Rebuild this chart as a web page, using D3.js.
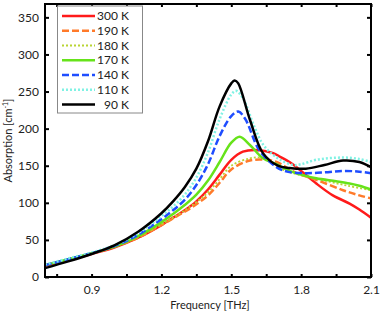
<!DOCTYPE html>
<html><head><meta charset="utf-8">
<script src="https://cdn.jsdelivr.net/npm/d3@7"></script>
<style>body{margin:0;background:#fff}svg{display:block}text{font-family:Lato,"Open Sans","DejaVu Sans",sans-serif;fill:#222}</style>
</head><body><svg id="c" width="380" height="313"></svg>
<script>
const seriesNames = ["300 K","190 K","180 K","170 K","140 K","110 K","90 K"];
const xTicks = [0.9,1.2,1.5,1.8,2.1];
const xMinorTicks = [0.75,0.9,1.05,1.2,1.35,1.5,1.65,1.8,1.95,2.1];
const yTicks = [0,50,100,150,200,250,300,350];

const f300 = [0.7,0.8,0.9,1.0,1.1,1.2,1.25,1.3,1.35,1.4,1.45,1.5,1.55,1.62,1.68,1.71,1.75,1.8,1.865,1.936,2.008,2.05,2.1];
const v300 = [15,23,31,40,53,70,80,90,102,118,138,158,169,171,167,162,155,143,126,110,99,91,80];
const f190 = [0.7,0.8,0.9,1.0,1.1,1.2,1.25,1.3,1.35,1.4,1.45,1.5,1.58,1.65,1.694,1.78,1.865,1.98,2.05,2.1];
const v190 = [16,24,32,41,53,70,79,88,98,110,127,145,157,158,155,140,131,117,110,106];
const f180 = [0.7,0.8,0.9,1.0,1.1,1.2,1.25,1.3,1.35,1.4,1.45,1.5,1.58,1.63,1.67,1.72,1.8,1.9,2.0,2.1];
const v180 = [16,24,32,41,54,71,80,90,101,114,132,150,160,161,156,145,137,130,123,117];
const f170 = [0.7,0.8,0.9,1.0,1.1,1.2,1.25,1.3,1.35,1.4,1.45,1.5,1.536,1.58,1.636,1.694,1.75,1.8,1.865,1.95,2.008,2.05,2.1];
const v170 = [16,24,32,41,55,74,85,97,111,130,155,181,189,178,160,152,143,138,133,129,126,123,118];
const f140 = [0.7,0.8,0.9,1.0,1.1,1.2,1.25,1.3,1.35,1.4,1.45,1.5,1.53,1.56,1.62,1.69,1.74,1.82,1.9,1.98,2.05,2.1];
const v140 = [16,24,32,42,57,78,90,104,124,152,190,217,223,213,171,149,142,140,141,143,142,140];
const f110 = [0.7,0.8,0.9,1.0,1.1,1.2,1.25,1.3,1.35,1.4,1.45,1.5,1.52,1.55,1.6,1.64,1.7,1.765,1.8,1.865,1.98,2.05,2.1];
const v110 = [17,25,33,43,59,82,95,111,134,168,213,246,251,241,202,177,160,151,152,158,161,159,155];
const f90 = [0.7,0.8,0.9,1.0,1.1,1.2,1.25,1.3,1.35,1.4,1.45,1.5,1.515,1.53,1.58,1.636,1.7,1.75,1.82,1.9,1.98,2.05,2.1];
const v90 = [12,21,31,43,61,86,102,121,146,183,230,261,265,261,212,167,150,147,146,151,157,155,148];

const freqs = [f300,f190,f180,f170,f140,f110,f90];
const vals = [v300,v190,v180,v170,v140,v110,v90];
const colors = ["#ff1a1a","#ff7a2a","#b9d433","#66e31a","#1f4dff","#80f2e4","#000000"];
const dashes = [null,"7,3","2,2",null,"7,3","2,2",null];
const widths = [2.5,2.5,1.8,2.5,2.5,2.5,2.5];

const svg = d3.select("#c");
const L=45,R=371,T=4,B=277;
const x = d3.scaleLinear().domain([0.7,2.1]).range([L,R]);
const y = d3.scaleLinear().domain([0,368]).range([B,T]);

const g = svg.append("g");
const line = d3.line().x(d=>x(d[0])).y(d=>y(d[1])).curve(d3.curveCatmullRom.alpha(0.5));
[0,1,2,3,4,5,6].forEach(i=>{
  const data = freqs[i].map((f,j)=>[f,vals[i][j]]);
  g.append("path").datum(data).attr("d",line).attr("fill","none")
   .attr("stroke",colors[i]).attr("stroke-width",widths[i])
   .attr("stroke-dasharray",dashes[i]);
});

const xb = svg.append("g").attr("transform",`translate(0,${B})`)
  .call(d3.axisBottom(x).tickValues(xMinorTicks).tickSize(-3).tickFormat(d=>xTicks.some(t=>Math.abs(t-d)<1e-6)?d3.format(".1f")(d):"").tickPadding(8));
const xt = svg.append("g").attr("transform",`translate(0,${T})`)
  .call(d3.axisTop(x).tickValues(xMinorTicks).tickSize(-3).tickFormat(""));
const yl = svg.append("g").attr("transform",`translate(${L},0)`)
  .call(d3.axisLeft(y).tickValues(yTicks).tickSize(-4).tickPadding(6));
const yr = svg.append("g").attr("transform",`translate(${R},0)`)
  .call(d3.axisRight(y).tickValues(yTicks).tickSize(-4).tickFormat(""));
[xb,xt,yl,yr].forEach(a=>{
  a.select(".domain").remove();
  a.selectAll(".tick line").attr("stroke","#000").attr("stroke-width",2);
  a.selectAll("text").style("font-size","12px").attr("fill","#222");
});
svg.append("rect").attr("x",L).attr("y",T).attr("width",R-L).attr("height",B-T)
  .attr("fill","none").attr("stroke","#000").attr("stroke-width",2);

svg.append("text").attr("x",(L+R)/2+2).attr("y",309).attr("text-anchor","middle")
  .style("font-size","11px").text("Frequency [THz]");
const yt = svg.append("text").attr("transform",`translate(12,${(T+B)/2}) rotate(-90)`)
  .attr("text-anchor","middle").style("font-size","11px");
yt.append("tspan").text("Absorption [cm");
yt.append("tspan").attr("dy",-4).style("font-size","7px").text("-1");
yt.append("tspan").attr("dy",4).text("]");

const lg = svg.append("g");
lg.append("rect").attr("x",57.5).attr("y",6).attr("width",85).attr("height",107)
  .attr("fill","#fff").attr("stroke","#888").attr("stroke-width",1);
seriesNames.forEach((n,i)=>{
  const yy = 16 + i*14.75;
  lg.append("line").attr("x1",62).attr("x2",95).attr("y1",yy).attr("y2",yy)
    .attr("stroke",colors[i]).attr("stroke-width",widths[i]).attr("stroke-dasharray",dashes[i]);
  lg.append("text").attr("x",129).attr("y",yy+4).attr("text-anchor","end")
    .style("font-size","12px").text(n);
});
</script></body></html>
